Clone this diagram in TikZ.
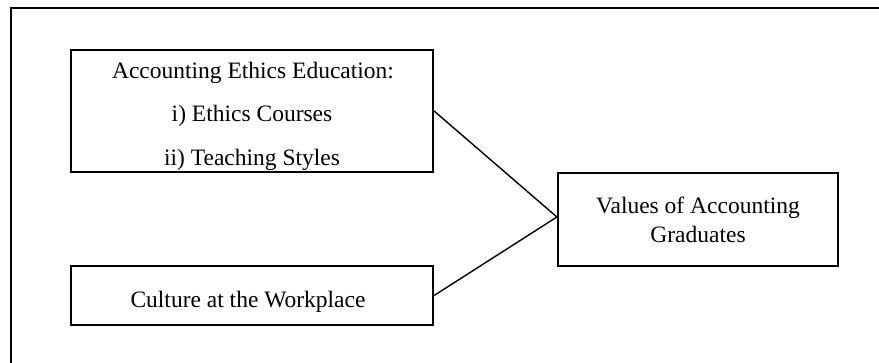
\documentclass[tikz,border=0pt]{standalone}
\usepackage{fontspec}
\setmainfont{Liberation Serif}
\begin{document}
\begin{tikzpicture}[x=1pt,y=-1pt,
  frameline/.style={line width=2.4pt},
  boxshape/.style={draw,line width=2.2pt,rectangle,inner sep=0pt},
  link/.style={line width=1.4pt},
  lbl/.style={anchor=base,inner sep=0pt,font=\fontsize{23.5}{28}\selectfont}]
  \useasboundingbox (0,0) rectangle (879,362);
  % outer frame
  \coordinate (fbl) at (11,363);
  \coordinate (ftl) at (11,8);
  \coordinate (ftr) at (880,8);
  \draw[frameline] (fbl) -- (ftl) -- (ftr);
  % boxes
  \node[boxshape,minimum width=362pt,minimum height=122pt] (edu) at (252,111) {};
  \node[boxshape,minimum width=362pt,minimum height=59pt] (work) at (252,295.5) {};
  \node[boxshape,minimum width=280pt,minimum height=93pt] (val) at (698,219.5) {};
  % texts
  \node[lbl] (edu1) at (253,78) {Accounting Ethics Education:};
  \node[lbl] (edu2) at (252,121.5) {i) Ethics Courses};
  \node[lbl] (edu3) at (252,165) {ii) Teaching Styles};
  \node[lbl] (work1) at (248,307) {Culture at the Workplace};
  \node[lbl] (val1) at (698,213) {Values of Accounting};
  \node[lbl] (val2) at (698,242) {Graduates};
  % connectors
  \coordinate (meet) at ([yshift=2.5pt]val.west);
  \draw[link] (edu.east) -- (meet);
  \draw[link] (work.east) -- (meet);
\end{tikzpicture}
\end{document}
